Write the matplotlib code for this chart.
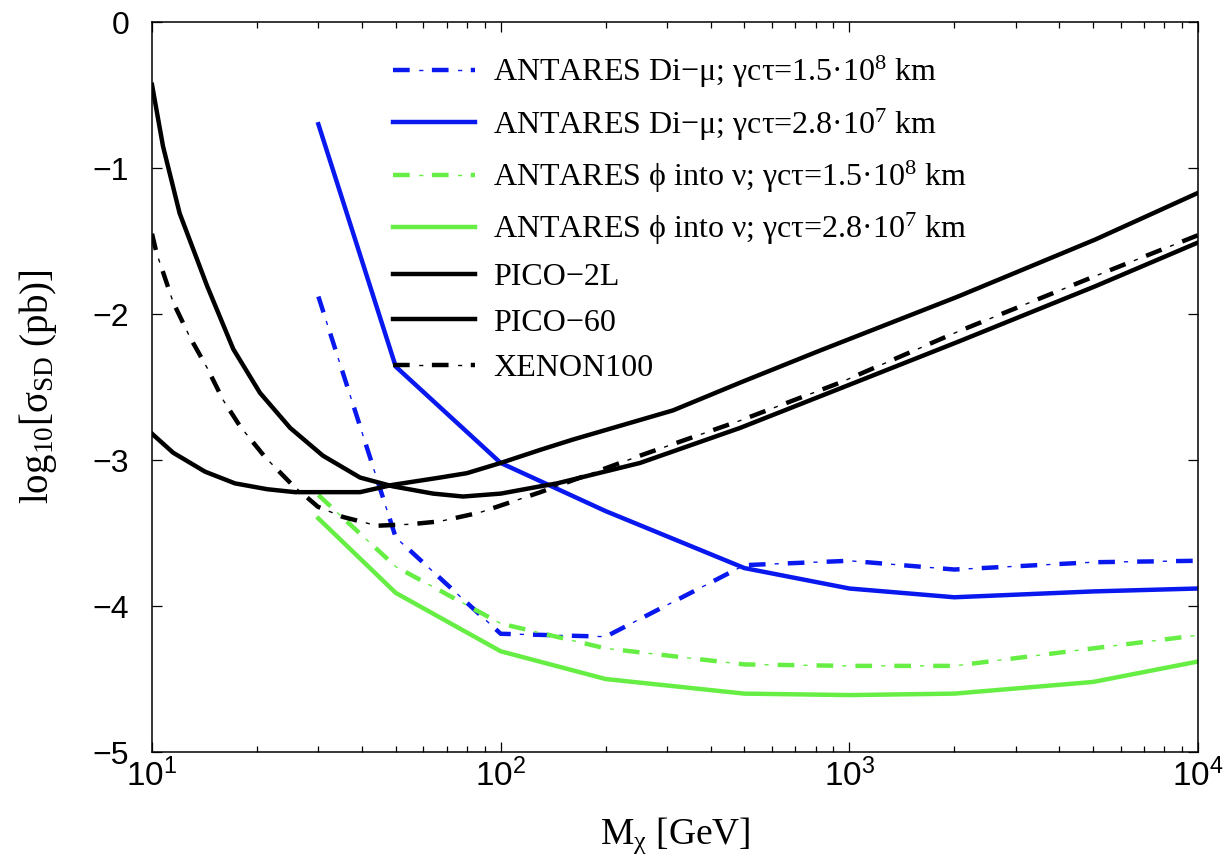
import matplotlib
matplotlib.use('Agg')
import matplotlib.pyplot as plt
from matplotlib.ticker import LogLocator, NullFormatter

plt.rcParams['mathtext.fontset'] = 'custom'
plt.rcParams['mathtext.rm'] = 'Liberation Serif'
plt.rcParams['mathtext.it'] = 'Liberation Serif:italic'
plt.rcParams['mathtext.sf'] = 'Liberation Sans'
plt.rcParams['lines.scale_dashes'] = False

SERIF = ['Liberation Serif', 'DejaVu Serif']
SANS = ['Liberation Sans', 'DejaVu Sans']

# ANTARES limits, evaluated at fixed mass points (GeV)
mass_antares = [30, 50, 100, 200, 500, 1000, 2000, 5000, 10000]
dimu_long = [-1.88, -3.53, -4.19, -4.21, -3.72, -3.69, -3.75, -3.70, -3.69]
dimu_short = [-0.70, -2.36, -3.02, -3.35, -3.74, -3.88, -3.94, -3.90, -3.88]
nu_long = [-3.24, -3.73, -4.12, -4.29, -4.40, -4.41, -4.41, -4.29, -4.20]
nu_short = [-3.40, -3.91, -4.31, -4.50, -4.60, -4.61, -4.60, -4.52, -4.38]

# direct detection limits
mass_pico2l = [10, 11.5, 14.2, 17.3, 21.4, 25.7, 39.5, 49, 67, 80, 100, 130, 161,
               312, 486, 824, 2050, 5070, 10000]
pico2l = [-2.82, -2.95, -3.08, -3.16, -3.20, -3.22, -3.22, -3.17, -3.12, -3.09,
          -3.02, -2.93, -2.86, -2.66, -2.47, -2.25, -1.88, -1.49, -1.17]

mass_pico60 = [10, 10.75, 12.0, 14.4, 17.1, 20.4, 24.9, 30.9, 39.5, 49, 64, 78, 100,
               130, 145, 251, 486, 940, 2050, 5070, 10000]
pico60 = [-0.43, -0.85, -1.31, -1.81, -2.24, -2.54, -2.78, -2.97, -3.12, -3.18, -3.23,
          -3.25, -3.23, -3.18, -3.16, -3.02, -2.78, -2.51, -2.19, -1.81, -1.51]

mass_xenon = [10, 10.3, 11.5, 12.85, 14.4, 16.0, 17.9, 21.1, 25.0, 29.9, 35.3, 44.2,
              55, 67, 87, 116, 130, 251, 486, 940, 2050, 5070, 10000]
xenon = [-1.45, -1.58, -1.92, -2.16, -2.37, -2.59, -2.77, -2.98, -3.16, -3.32, -3.39,
         -3.45, -3.44, -3.42, -3.36, -3.26, -3.22, -2.97, -2.73, -2.47, -2.12, -1.74, -1.46]

labels = [
    r'ANTARES Di−μ; γcτ=1.5·10$^{\mathrm{8}}$ km',
    r'ANTARES Di−μ; γcτ=2.8·10$^{\mathrm{7}}$ km',
    r'ANTARES ϕ into ν; γcτ=1.5·10$^{\mathrm{8}}$ km',
    r'ANTARES ϕ into ν; γcτ=2.8·10$^{\mathrm{7}}$ km',
    'PICO−2L',
    'PICO−60',
    'XENON100',
]

BLUE = '#0818ee'
GREEN = '#66ee44'
LW = 3.2


def dashdot(ax, x, y, color):
    # thick dashes with a thin short stroke in each gap
    thick, = ax.plot(x, y, color=color, lw=LW, linestyle=(0, (12, 16)))
    thin, = ax.plot(x, y, color=color, lw=1.0, linestyle=(9.5, (3.0, 25.0)))
    return (thick, thin)


fig = plt.figure(figsize=(12.25, 8.64), dpi=100)
ax = fig.add_axes([0.1241, 0.1296, 0.8539, 0.8449])

h1 = dashdot(ax, mass_antares, dimu_long, BLUE)
h2, = ax.plot(mass_antares, dimu_short, color=BLUE, lw=LW)
h3 = dashdot(ax, mass_antares, nu_long, GREEN)
h4, = ax.plot(mass_antares, nu_short, color=GREEN, lw=LW)
h5, = ax.plot(mass_pico2l, pico2l, color='black', lw=LW)
h6, = ax.plot(mass_pico60, pico60, color='black', lw=LW)
h7 = dashdot(ax, mass_xenon, xenon, 'black')

ax.set_xscale('log')
ax.set_xlim(10, 1e4)
ax.set_ylim(-5, 0)

ax.set_xticks([10, 100, 1000, 10000],
              [r'$\mathsf{10^{%d}}$' % k for k in range(1, 5)],
              fontsize=24)
ax.xaxis.set_minor_locator(LogLocator(base=10, subs=range(2, 10)))
ax.xaxis.set_minor_formatter(NullFormatter())
ax.set_yticks(range(-5, 1), ['−5', '−4', '−3', '−2', '−1', '0'],
              fontfamily=SANS, fontsize=23)

ax.tick_params(which='both', direction='in', top=True, right=True, width=0.9)
ax.tick_params(which='major', length=7)
ax.tick_params(which='minor', length=4)
ax.tick_params(axis='x', pad=5)
ax.tick_params(axis='y', pad=16.5)
for s in ax.spines.values():
    s.set_linewidth(1.1)

ax.set_xlabel(r'M$_{\mathrm{χ}}$ [GeV]', fontfamily=SERIF, fontsize=27, labelpad=16)
ax.set_ylabel(r'log$_{\mathrm{10}}$[σ$_{\mathrm{SD}}$ (pb)]', fontfamily=SERIF,
              fontsize=28, labelpad=24)

ax.legend([h1, h2, h3, h4, h5, h6, h7], labels, loc='upper left',
          bbox_to_anchor=(0.2304, 0.956), frameon=False,
          prop={'family': SERIF, 'size': 23}, handlelength=2.57,
          handletextpad=0.56, labelspacing=0.5, borderpad=0, borderaxespad=0)

fig.savefig('out.png', dpi=100)
plt.close(fig)
